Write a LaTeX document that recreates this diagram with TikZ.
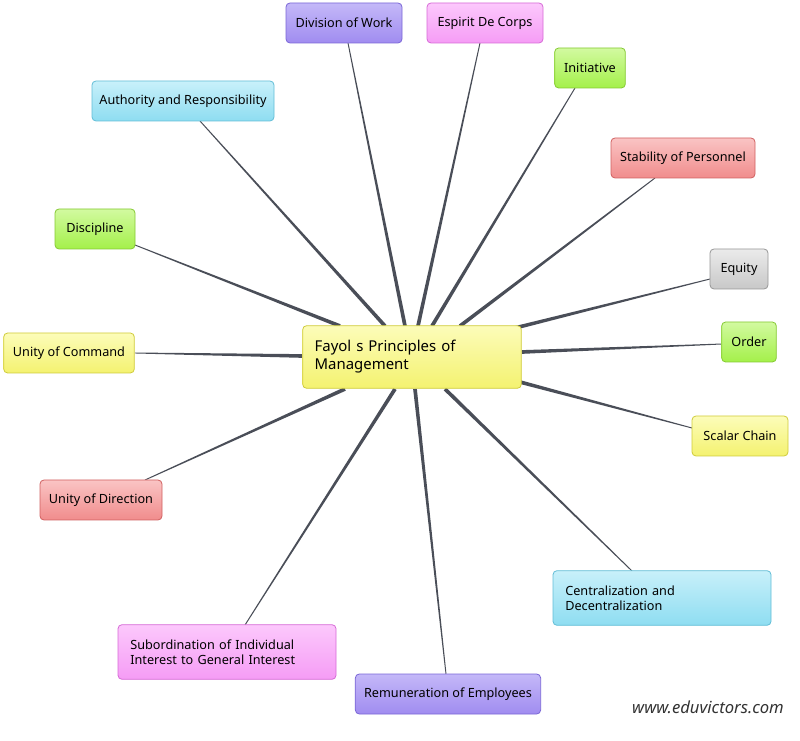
\documentclass[tikz,border=0pt]{standalone}
\usepackage{fontspec}
\setmainfont{Noto Sans}
\usetikzlibrary{calc,backgrounds}
\definecolor{spoke}{HTML}{4A4E58}
\tikzset{
  box/.style={rounded corners=3pt,draw,line width=0.6pt,minimum height=30pt,inner sep=4pt,font=\fontsize{9.5}{11.5}\selectfont},
  purplebox/.style={box,draw={rgb,255:red,122;green,102;blue,214},top color={rgb,255:red,196;green,184;blue,248},bottom color={rgb,255:red,160;green,140;blue,240}},
  pinkbox/.style={box,draw={rgb,255:red,214;green,106;blue,214},top color={rgb,255:red,252;green,200;blue,252},bottom color={rgb,255:red,245;green,156;blue,245}},
  greenbox/.style={box,draw={rgb,255:red,133;green,201;blue,51},top color={rgb,255:red,210;green,250;blue,160},bottom color={rgb,255:red,164;green,240;blue,74}},
  cyanbox/.style={box,draw={rgb,255:red,98;green,189;blue,214},top color={rgb,255:red,200;green,240;blue,250},bottom color={rgb,255:red,142;green,221;blue,241}},
  redbox/.style={box,draw={rgb,255:red,208;green,96;blue,96},top color={rgb,255:red,250;green,196;blue,196},bottom color={rgb,255:red,240;green,140;blue,140}},
  graybox/.style={box,draw={rgb,255:red,150;green,150;blue,150},top color={rgb,255:red,235;green,235;blue,235},bottom color={rgb,255:red,200;green,200;blue,200}},
  yellowbox/.style={box,draw={rgb,255:red,207;green,203;blue,58},top color={rgb,255:red,252;green,252;blue,185},bottom color={rgb,255:red,244;green,242;blue,112}},
}
\newcommand{\spokeline}[2]{%
  \fill[spoke] ($(#2)!1.4pt!90:(#1)$) -- ($(#1)!0.35pt!-90:(#2)$)
    -- ($(#1)!0.35pt!90:(#2)$) -- ($(#2)!1.4pt!-90:(#1)$) -- cycle;}
\begin{document}
\begin{tikzpicture}[x=0.75pt,y=-0.75pt]
  \useasboundingbox (0,0) rectangle (800,741);
  % centre
  \node (fayol) at (412,357) [yellowbox,minimum width=164pt,minimum height=47pt,text width=146pt,align=left,font=\fontsize{11.2}{13.5}\selectfont] {Fayol s Principles of\\Management};
  % branches
  \node (div) at (344,23) [purplebox,minimum width=87pt] {Division of Work};
  \node (esp) at (485,23) [pinkbox,minimum width=87pt] {Espirit De Corps};
  \node (init) at (590,68) [greenbox,minimum width=53pt] {Initiative};
  \node (auth) at (183,101) [cyanbox,minimum width=136.5pt] {Authority and Responsibility};
  \node (stab) at (683,158) [redbox,minimum width=108pt] {Stability of Personnel};
  \node (disc) at (95,229) [greenbox,minimum width=60pt] {Discipline};
  \node (equity) at (739,269) [graybox,minimum width=43.5pt] {Equity};
  \node (uoc) at (69,353) [yellowbox,minimum width=98pt] {Unity of Command};
  \node (order) at (749,342) [greenbox,minimum width=41pt] {Order};
  \node (scalar) at (740,436) [yellowbox,minimum width=72pt] {Scalar Chain};
  \node (uod) at (101,500) [redbox,minimum width=91.5pt] {Unity of Direction};
  \node (cent) at (662,598) [cyanbox,minimum width=163.5pt,minimum height=41pt,text width=145pt,align=left] {Centralization and\\Decentralization};
  \node (sub) at (227,652) [pinkbox,minimum width=163.5pt,minimum height=41pt,text width=145pt,align=left] {Subordination of Individual\\Interest to General Interest};
  \node (rem) at (448,694) [purplebox,minimum width=139pt] {Remuneration of Employees};
  \node (mark) at (708,707) [font=\fontsize{12.5}{14}\selectfont\itshape,text=black!80] {www.eduvictors.com};
  % spokes
  \begin{scope}[on background layer]
    \coordinate (c1) at (405,326); \coordinate (o1) at (348,43);
    \coordinate (c2) at (418,326); \coordinate (o2) at (480,43);
    \coordinate (c3) at (432,326); \coordinate (o3) at (575,88);
    \coordinate (c4) at (385,326); \coordinate (o4) at (200,121);
    \coordinate (c5) at (460,326); \coordinate (o5) at (655,178);
    \coordinate (c6) at (340,326); \coordinate (o6) at (135,245);
    \coordinate (c7) at (515,328); \coordinate (o7) at (710,279);
    \coordinate (c8) at (303,356); \coordinate (o8) at (135,353);
    \coordinate (c9) at (522,352); \coordinate (o9) at (722,344);
    \coordinate (c10) at (520,382); \coordinate (o10) at (692,428);
    \coordinate (c11) at (345,389); \coordinate (o11) at (145,480);
    \coordinate (c12) at (445,389); \coordinate (o12) at (632,571);
    \coordinate (c13) at (395,389); \coordinate (o13) at (245,625);
    \coordinate (c14) at (415,389); \coordinate (o14) at (446,674);
    \foreach \i in {1,...,14} {\spokeline{o\i}{c\i}}
  \end{scope}
\end{tikzpicture}
\end{document}
